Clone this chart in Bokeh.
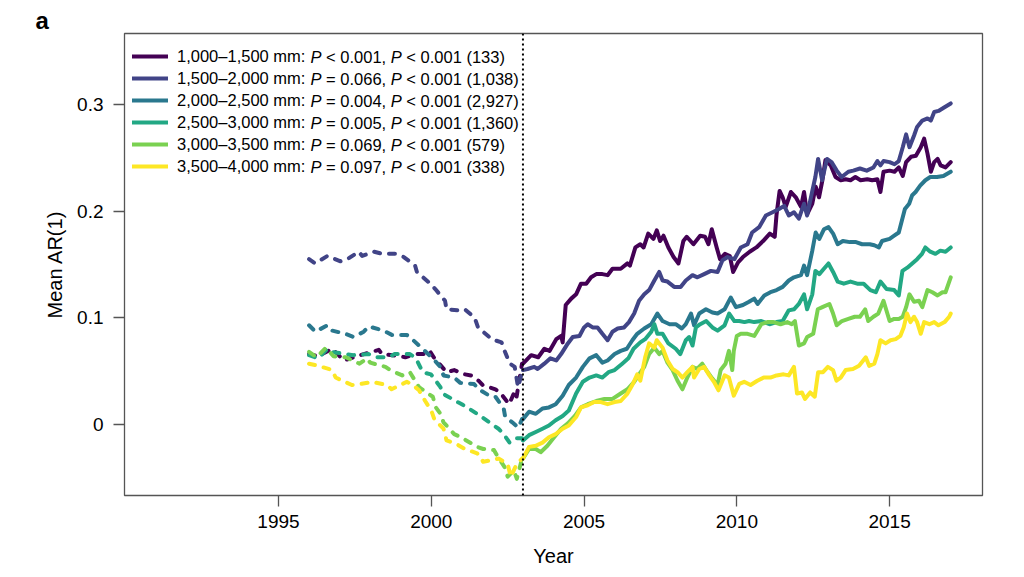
from bokeh.plotting import figure
from bokeh.models import Span, Label, Legend, LegendItem, FixedTicker, Range1d, Title
from bokeh.embed import file_html
from bokeh.resources import INLINE

# ---------------- data (year, mean AR(1)) ----------------
series_names = ["1,000–1,500 mm:", "1,500–2,000 mm:", "2,000–2,500 mm:",
                "2,500–3,000 mm:", "3,000–3,500 mm:", "3,500–4,000 mm:"]
p_trend = ["< 0.001,", "= 0.066,", "= 0.004,", "= 0.005,", "= 0.069,", "= 0.097,"]
p_second = ["< 0.001 (133)", "< 0.001 (1,038)", "< 0.001 (2,927)",
            "< 0.001 (1,360)", "< 0.001 (579)", "< 0.001 (338)"]
colors = ["#440154", "#414487", "#2A788E", "#22A884", "#7AD151", "#FDE725"]

s1_before = [(1996.0, 0.066), (1996.3, 0.064), (1996.76, 0.071), (1997.14, 0.060), (1997.47, 0.063),
             (1997.79, 0.066), (1998.06, 0.068), (1998.28, 0.070), (1998.39, 0.066), (1998.98, 0.064),
             (1999.15, 0.063), (1999.45, 0.066), (1999.8, 0.066), (1999.95, 0.069), (2000.08, 0.063),
             (2000.5, 0.049), (2000.75, 0.051), (2001.1, 0.047), (2001.3, 0.046), (2001.55, 0.041),
             (2001.68, 0.037), (2002.1, 0.033), (2002.25, 0.030), (2002.55, 0.019), (2002.7, 0.029),
             (2002.78, 0.024), (2002.97, 0.057)]
s1_after = [(2003.0, 0.057), (2003.27, 0.065), (2003.5, 0.063), (2003.7, 0.071), (2003.87, 0.069),
            (2004.09, 0.080), (2004.25, 0.083), (2004.3, 0.077), (2004.4, 0.112), (2004.58, 0.118),
            (2004.74, 0.122), (2004.9, 0.132), (2005.07, 0.132), (2005.23, 0.138), (2005.4, 0.141),
            (2005.6, 0.141), (2005.77, 0.140), (2005.93, 0.146), (2006.2, 0.146), (2006.42, 0.151),
            (2006.5, 0.149), (2006.68, 0.166), (2006.84, 0.169), (2006.95, 0.166), (2007.1, 0.179),
            (2007.27, 0.174), (2007.38, 0.182), (2007.49, 0.172), (2007.6, 0.177), (2007.76, 0.166),
            (2007.93, 0.157), (2008.09, 0.151), (2008.25, 0.172), (2008.36, 0.176), (2008.58, 0.169),
            (2008.8, 0.177), (2008.96, 0.176), (2009.07, 0.169), (2009.18, 0.183), (2009.34, 0.166),
            (2009.45, 0.155), (2009.61, 0.160), (2009.77, 0.158), (2009.88, 0.143), (2010.04, 0.152),
            (2010.2, 0.157), (2010.42, 0.162), (2010.64, 0.166), (2010.86, 0.172), (2011.08, 0.179),
            (2011.24, 0.176), (2011.3, 0.197), (2011.4, 0.219), (2011.5, 0.213), (2011.6, 0.204),
            (2011.77, 0.218), (2011.93, 0.213), (2012.1, 0.204), (2012.2, 0.218), (2012.3, 0.197),
            (2012.47, 0.207), (2012.58, 0.223), (2012.69, 0.213), (2012.8, 0.229), (2012.9, 0.248),
            (2013.07, 0.243), (2013.23, 0.232), (2013.4, 0.229), (2013.56, 0.230), (2013.72, 0.229),
            (2013.88, 0.232), (2014.05, 0.229), (2014.27, 0.230), (2014.43, 0.229), (2014.6, 0.230),
            (2014.7, 0.218), (2014.8, 0.237), (2015.0, 0.238), (2015.16, 0.237), (2015.3, 0.241),
            (2015.43, 0.233), (2015.54, 0.246), (2015.7, 0.251), (2015.86, 0.252), (2016.02, 0.260),
            (2016.13, 0.268), (2016.24, 0.254), (2016.35, 0.237), (2016.46, 0.246), (2016.57, 0.249),
            (2016.67, 0.243), (2016.83, 0.241), (2017.0, 0.246)]

s2_before = [(1996.0, 0.155), (1996.2, 0.151), (1996.6, 0.158), (1997.03, 0.153), (1997.25, 0.155),
             (1997.63, 0.162), (1997.74, 0.158), (1998.12, 0.162), (1998.39, 0.160), (1998.82, 0.160),
             (1999.1, 0.157), (1999.47, 0.149), (1999.53, 0.143), (1999.97, 0.132), (2000.13, 0.127),
             (2000.45, 0.116), (2000.5, 0.108), (2000.88, 0.107), (2001.1, 0.108), (2001.42, 0.100),
             (2001.53, 0.091), (2001.86, 0.083), (2001.97, 0.080), (2002.3, 0.077), (2002.4, 0.069),
             (2002.57, 0.057), (2002.73, 0.054), (2002.84, 0.035), (2002.97, 0.049)]
s2_after = [(2003.0, 0.051), (2003.15, 0.052), (2003.37, 0.054), (2003.48, 0.052), (2003.7, 0.057),
            (2003.9, 0.062), (2004.09, 0.060), (2004.25, 0.066), (2004.47, 0.076), (2004.63, 0.082),
            (2004.85, 0.083), (2005.0, 0.091), (2005.12, 0.094), (2005.28, 0.091), (2005.44, 0.091),
            (2005.6, 0.085), (2005.77, 0.079), (2005.93, 0.087), (2006.1, 0.090), (2006.31, 0.091),
            (2006.47, 0.096), (2006.64, 0.104), (2006.8, 0.116), (2006.97, 0.122), (2007.13, 0.126),
            (2007.3, 0.135), (2007.46, 0.143), (2007.57, 0.135), (2007.73, 0.134), (2007.95, 0.129),
            (2008.16, 0.129), (2008.33, 0.135), (2008.55, 0.140), (2008.71, 0.138), (2008.93, 0.141),
            (2009.15, 0.144), (2009.37, 0.143), (2009.53, 0.154), (2009.7, 0.157), (2009.92, 0.155),
            (2010.13, 0.166), (2010.35, 0.169), (2010.5, 0.180), (2010.73, 0.185), (2010.95, 0.196),
            (2011.17, 0.199), (2011.38, 0.202), (2011.55, 0.205), (2011.7, 0.196), (2011.87, 0.199),
            (2012.03, 0.193), (2012.2, 0.207), (2012.3, 0.196), (2012.47, 0.219), (2012.57, 0.232),
            (2012.66, 0.249), (2012.79, 0.229), (2012.95, 0.249), (2013.1, 0.246), (2013.27, 0.238),
            (2013.43, 0.232), (2013.65, 0.237), (2013.81, 0.238), (2014.03, 0.240), (2014.25, 0.238),
            (2014.47, 0.241), (2014.6, 0.247), (2014.7, 0.243), (2014.8, 0.247), (2015.0, 0.246),
            (2015.16, 0.244), (2015.3, 0.247), (2015.43, 0.260), (2015.54, 0.272), (2015.65, 0.260),
            (2015.8, 0.271), (2015.9, 0.279), (2016.07, 0.285), (2016.24, 0.287), (2016.35, 0.285),
            (2016.46, 0.293), (2016.6, 0.294), (2016.77, 0.297), (2017.0, 0.301)]

s3_before = [(1996.0, 0.093), (1996.21, 0.087), (1996.6, 0.093), (1996.76, 0.088), (1997.19, 0.085),
             (1997.46, 0.082), (1997.79, 0.087), (1997.95, 0.092), (1998.44, 0.088), (1998.71, 0.084),
             (1999.2, 0.084), (1999.41, 0.079), (1999.75, 0.070), (2000.05, 0.062), (2000.3, 0.054),
             (2000.4, 0.046), (2000.75, 0.044), (2000.95, 0.039), (2001.4, 0.038), (2001.55, 0.033),
             (2001.9, 0.027), (2002.1, 0.026), (2002.37, 0.015), (2002.42, 0.007), (2002.65, 0.002),
             (2002.85, -0.003), (2002.97, 0.005)]
s3_after = [(2003.0, 0.005), (2003.2, 0.012), (2003.42, 0.010), (2003.64, 0.015), (2003.85, 0.016),
            (2004.07, 0.019), (2004.3, 0.027), (2004.5, 0.037), (2004.74, 0.044), (2004.96, 0.054),
            (2005.18, 0.062), (2005.4, 0.065), (2005.6, 0.058), (2005.77, 0.060), (2006.0, 0.066),
            (2006.2, 0.069), (2006.4, 0.071), (2006.58, 0.079), (2006.74, 0.085), (2006.97, 0.090),
            (2007.2, 0.094), (2007.4, 0.104), (2007.57, 0.097), (2007.8, 0.094), (2008.0, 0.094),
            (2008.2, 0.090), (2008.33, 0.094), (2008.5, 0.104), (2008.6, 0.093), (2008.77, 0.104),
            (2008.99, 0.108), (2009.2, 0.105), (2009.37, 0.104), (2009.6, 0.108), (2009.8, 0.119),
            (2009.97, 0.110), (2010.2, 0.112), (2010.4, 0.115), (2010.57, 0.118), (2010.68, 0.113),
            (2010.9, 0.121), (2011.1, 0.124), (2011.3, 0.126), (2011.5, 0.129), (2011.7, 0.135),
            (2011.87, 0.138), (2012.1, 0.140), (2012.2, 0.149), (2012.3, 0.140), (2012.47, 0.163),
            (2012.58, 0.180), (2012.7, 0.174), (2012.85, 0.183), (2013.0, 0.185), (2013.15, 0.179),
            (2013.3, 0.169), (2013.47, 0.172), (2013.7, 0.171), (2013.9, 0.171), (2014.1, 0.169),
            (2014.35, 0.169), (2014.5, 0.168), (2014.65, 0.166), (2014.75, 0.172), (2015.0, 0.174),
            (2015.15, 0.177), (2015.3, 0.180), (2015.4, 0.191), (2015.5, 0.202), (2015.64, 0.207),
            (2015.74, 0.215), (2015.85, 0.218), (2016.0, 0.224), (2016.17, 0.229), (2016.33, 0.232),
            (2016.55, 0.232), (2016.76, 0.233), (2017.0, 0.237)]

s4_before = [(1996.0, 0.065), (1996.3, 0.062), (1996.6, 0.071), (1996.75, 0.068), (1997.2, 0.066),
             (1997.45, 0.065), (1997.95, 0.066), (1998.2, 0.063), (1998.6, 0.063), (1998.8, 0.066),
             (1999.3, 0.066), (1999.5, 0.062), (1999.72, 0.049), (1999.99, 0.047), (2000.3, 0.035),
             (2000.37, 0.029), (2000.8, 0.022), (2001.0, 0.019), (2001.5, 0.010), (2001.65, 0.007),
             (2002.2, -0.004), (2002.37, -0.009), (2002.56, -0.017), (2002.76, -0.013), (2002.97, -0.013)]
s4_after = [(2003.0, -0.015), (2003.2, -0.010), (2003.42, -0.007), (2003.64, -0.004), (2003.85, -0.001),
            (2004.07, 0.004), (2004.3, 0.008), (2004.5, 0.013), (2004.74, 0.029), (2004.96, 0.040),
            (2005.18, 0.044), (2005.4, 0.046), (2005.6, 0.044), (2005.8, 0.049), (2006.0, 0.051),
            (2006.25, 0.057), (2006.45, 0.062), (2006.62, 0.071), (2006.84, 0.077), (2007.0, 0.080),
            (2007.2, 0.087), (2007.3, 0.094), (2007.4, 0.085), (2007.57, 0.085), (2007.76, 0.076),
            (2008.0, 0.071), (2008.15, 0.066), (2008.33, 0.079), (2008.44, 0.082), (2008.55, 0.074),
            (2008.66, 0.091), (2008.8, 0.094), (2009.0, 0.097), (2009.2, 0.091), (2009.37, 0.088),
            (2009.6, 0.093), (2009.75, 0.104), (2009.92, 0.097), (2010.08, 0.097), (2010.25, 0.096),
            (2010.4, 0.097), (2010.57, 0.096), (2010.8, 0.097), (2011.07, 0.094), (2011.3, 0.096),
            (2011.5, 0.097), (2011.7, 0.107), (2011.87, 0.108), (2012.03, 0.113), (2012.2, 0.122),
            (2012.3, 0.108), (2012.47, 0.122), (2012.57, 0.144), (2012.7, 0.141), (2012.85, 0.146),
            (2013.0, 0.151), (2013.15, 0.143), (2013.3, 0.134), (2013.5, 0.132), (2013.72, 0.134),
            (2013.94, 0.132), (2014.15, 0.132), (2014.37, 0.126), (2014.55, 0.124), (2014.7, 0.134),
            (2014.9, 0.127), (2015.15, 0.126), (2015.3, 0.121), (2015.42, 0.144), (2015.58, 0.147),
            (2015.74, 0.151), (2015.9, 0.155), (2016.06, 0.160), (2016.17, 0.166), (2016.33, 0.162),
            (2016.5, 0.160), (2016.66, 0.163), (2016.83, 0.162), (2017.0, 0.166)]

s5_before = [(1996.0, 0.068), (1996.25, 0.063), (1996.55, 0.072), (1996.8, 0.064), (1997.2, 0.063),
             (1997.65, 0.057), (1997.9, 0.062), (1998.0, 0.058), (1998.5, 0.054), (1998.65, 0.051),
             (1999.05, 0.046), (1999.3, 0.049), (1999.6, 0.035), (1999.7, 0.033), (2000.05, 0.026),
             (2000.15, 0.016), (2000.3, 0.010), (2000.4, 0.002), (2000.75, -0.009), (2000.97, -0.012),
             (2001.5, -0.021), (2001.7, -0.023), (2002.05, -0.024), (2002.15, -0.029), (2002.4, -0.040),
             (2002.5, -0.049), (2002.7, -0.043), (2002.8, -0.051), (2002.97, -0.032)]
s5_after = [(2003.0, -0.032), (2003.2, -0.023), (2003.42, -0.023), (2003.58, -0.026), (2003.8, -0.020),
            (2004.02, -0.012), (2004.25, -0.004), (2004.47, 0.001), (2004.7, 0.008), (2004.9, 0.016),
            (2005.12, 0.019), (2005.4, 0.022), (2005.67, 0.024), (2005.93, 0.024), (2006.2, 0.029),
            (2006.42, 0.033), (2006.64, 0.040), (2006.8, 0.047), (2006.97, 0.054), (2007.13, 0.066),
            (2007.3, 0.072), (2007.46, 0.066), (2007.57, 0.069), (2007.73, 0.058), (2007.9, 0.051),
            (2008.06, 0.041), (2008.22, 0.033), (2008.38, 0.044), (2008.55, 0.054), (2008.7, 0.052),
            (2008.87, 0.057), (2009.0, 0.051), (2009.2, 0.043), (2009.37, 0.037), (2009.47, 0.051),
            (2009.63, 0.057), (2009.74, 0.069), (2009.85, 0.051), (2009.9, 0.069), (2010.0, 0.083),
            (2010.13, 0.085), (2010.35, 0.085), (2010.57, 0.083), (2010.8, 0.094), (2011.0, 0.096),
            (2011.2, 0.096), (2011.43, 0.094), (2011.65, 0.096), (2011.8, 0.094), (2011.9, 0.097),
            (2012.03, 0.074), (2012.2, 0.076), (2012.3, 0.082), (2012.5, 0.085), (2012.65, 0.108),
            (2012.8, 0.110), (2013.03, 0.113), (2013.15, 0.104), (2013.27, 0.093), (2013.44, 0.097),
            (2013.65, 0.099), (2013.86, 0.101), (2014.03, 0.101), (2014.2, 0.108), (2014.3, 0.097),
            (2014.47, 0.101), (2014.63, 0.104), (2014.8, 0.116), (2015.0, 0.097), (2015.15, 0.099),
            (2015.3, 0.099), (2015.43, 0.101), (2015.54, 0.110), (2015.65, 0.122), (2015.8, 0.115),
            (2015.96, 0.116), (2016.07, 0.110), (2016.24, 0.126), (2016.4, 0.124), (2016.57, 0.121),
            (2016.73, 0.124), (2016.83, 0.124), (2017.0, 0.138)]

s6_before = [(1996.0, 0.057), (1996.3, 0.055), (1996.76, 0.051), (1996.87, 0.044), (1997.1, 0.041),
             (1997.4, 0.037), (1997.7, 0.038), (1998.06, 0.040), (1998.55, 0.037), (1998.7, 0.033),
             (1999.2, 0.040), (1999.4, 0.037), (1999.6, 0.032), (1999.8, 0.022), (2000.0, 0.013),
             (2000.1, 0.005), (2000.4, -0.004), (2000.5, -0.015), (2000.8, -0.018), (2001.1, -0.023),
             (2001.5, -0.027), (2001.7, -0.035), (2002.2, -0.032), (2002.5, -0.037), (2002.6, -0.049),
             (2002.8, -0.037), (2002.97, -0.032)]
s6_after = [(2003.0, -0.032), (2003.2, -0.021), (2003.42, -0.020), (2003.64, -0.017), (2003.85, -0.012),
            (2004.07, -0.009), (2004.3, -0.004), (2004.5, -0.001), (2004.74, 0.007), (2004.9, 0.016),
            (2005.12, 0.018), (2005.33, 0.021), (2005.55, 0.021), (2005.77, 0.019), (2006.0, 0.021),
            (2006.2, 0.022), (2006.42, 0.029), (2006.58, 0.037), (2006.74, 0.047), (2006.84, 0.041),
            (2007.0, 0.063), (2007.13, 0.076), (2007.3, 0.072), (2007.38, 0.079), (2007.57, 0.072),
            (2007.73, 0.060), (2007.9, 0.052), (2008.06, 0.049), (2008.22, 0.044), (2008.38, 0.049),
            (2008.55, 0.054), (2008.6, 0.044), (2008.77, 0.052), (2008.93, 0.054), (2009.1, 0.046),
            (2009.25, 0.040), (2009.4, 0.032), (2009.6, 0.046), (2009.74, 0.044), (2009.9, 0.027),
            (2010.08, 0.038), (2010.24, 0.040), (2010.45, 0.037), (2010.67, 0.041), (2010.88, 0.044),
            (2011.1, 0.044), (2011.3, 0.046), (2011.53, 0.047), (2011.7, 0.046), (2011.87, 0.054),
            (2011.97, 0.029), (2012.13, 0.030), (2012.23, 0.024), (2012.4, 0.030), (2012.55, 0.026),
            (2012.66, 0.049), (2012.82, 0.049), (2012.98, 0.054), (2013.15, 0.051), (2013.26, 0.041),
            (2013.4, 0.044), (2013.56, 0.051), (2013.8, 0.052), (2014.0, 0.055), (2014.22, 0.063),
            (2014.33, 0.055), (2014.5, 0.057), (2014.6, 0.066), (2014.7, 0.079), (2014.87, 0.076),
            (2015.03, 0.079), (2015.2, 0.080), (2015.35, 0.083), (2015.46, 0.091), (2015.57, 0.104),
            (2015.68, 0.096), (2015.8, 0.101), (2015.9, 0.096), (2016.02, 0.085), (2016.13, 0.096),
            (2016.3, 0.094), (2016.46, 0.096), (2016.6, 0.093), (2016.8, 0.096), (2016.95, 0.101),
            (2017.0, 0.104)]

before_2003 = [s1_before, s2_before, s3_before, s4_before, s5_before, s6_before]
after_2003 = [s1_after, s2_after, s3_after, s4_after, s5_after, s6_after]
x_ticks = [1995, 2000, 2005, 2010, 2015]
y_ticks = [0, 0.1, 0.2, 0.3]
y_tick_labels = ["0", "0.1", "0.2", "0.3"]
break_year = 2003

# ---------------- figure ----------------
FONT = "Liberation Sans"
FW, FH = 858, 462
LEG_FS = 16.5
LW = 4

p = figure(frame_width=FW, frame_height=FH,
           min_border_left=124, min_border_right=30, min_border_top=33, min_border_bottom=78,
           x_range=Range1d(1989.96, 2018.04), y_range=Range1d(-0.0666, 0.3666),
           output_backend="svg", toolbar_location=None,
           x_axis_label="Year", y_axis_label="Mean AR(1)")
p.title = Title(text="a", text_font=FONT, text_font_size="24px", text_font_style="bold",
                text_color="black", align="left", offset=-89, standoff=0)
p.background_fill_color = "white"
p.border_fill_color = "white"
p.grid.visible = False
p.outline_line_color = "#555555"
p.outline_line_width = 1.3

for ax in (p.xaxis[0], p.yaxis[0]):
    ax.axis_line_color = None
    ax.major_tick_out = 11
    ax.major_tick_in = 0
    ax.major_tick_line_color = "#555555"
    ax.major_tick_line_width = 1.3
    ax.minor_tick_line_color = None
    ax.major_label_text_font = FONT
    ax.major_label_text_font_size = "19px"
    ax.major_label_text_color = "black"
    ax.axis_label_text_font = FONT
    ax.axis_label_text_font_size = "20px"
    ax.axis_label_text_font_style = "normal"
    ax.axis_label_text_color = "black"

p.xaxis.ticker = FixedTicker(ticks=x_ticks)
p.yaxis.ticker = FixedTicker(ticks=y_ticks)
p.yaxis.major_label_overrides = {t: s for t, s in zip(y_ticks, y_tick_labels)}
p.xaxis.major_label_standoff = 8
p.yaxis.major_label_standoff = 10
p.xaxis.axis_label_standoff = 14
p.yaxis.axis_label_standoff = 8

items = []
for i in range(6):
    bx = [a for a, b in before_2003[i]]
    by = [b for a, b in before_2003[i]]
    ax_ = [a for a, b in after_2003[i]]
    ay = [b for a, b in after_2003[i]]
    p.line(bx, by, line_color=colors[i], line_width=LW, line_dash="6 9",
           line_cap="round", line_join="round")
    r = p.line(ax_, ay, line_color=colors[i], line_width=LW,
               line_cap="round", line_join="round")
    items.append(LegendItem(label=series_names[i], renderers=[r]))

p.add_layout(Span(location=break_year, dimension="height", line_color="black",
                  line_width=2, line_dash="2 3"))

# ---------------- legend ----------------
ROW_H = 22
TOP_OFF = 12
legend = Legend(items=items, location=(8, FH - TOP_OFF - 6 * ROW_H),
                padding=0, margin=0, spacing=0,
                glyph_width=36, glyph_height=ROW_H, label_height=ROW_H,
                label_standoff=9, label_text_font=FONT, label_text_font_size=f"{LEG_FS}px",
                label_text_color="black",
                border_line_color=None, background_fill_alpha=0)
p.add_layout(legend)

# Arial / Liberation Sans advance widths (per 1000 em)
W = {" ": 278, ",": 278, ".": 278, ":": 278, "–": 556, "m": 833, "P": 667,
     "<": 584, "=": 584, "(": 333, ")": 333}
for d in "0123456789":
    W[d] = 556


def tw(s, size=LEG_FS):
    return sum(W.get(c, 556) for c in s) * size / 1000.0


x0 = 8 + 36 + 9
for i in range(6):
    yc = FH - TOP_OFF - ROW_H * i - ROW_H / 2
    x = x0 + tw(series_names[i]) + tw(" ")
    pieces = [("P", "italic"), (p_trend[i], "normal"), ("P", "italic"), (p_second[i], "normal")]
    for txt, style in pieces:
        p.add_layout(Label(x=x, y=yc, x_units="screen", y_units="screen", text=txt,
                           text_font=FONT, text_font_size=f"{LEG_FS}px", text_font_style=style,
                           text_color="black", text_baseline="middle", text_align="left"))
        x += tw(txt) + tw(" ")

open("out.html", "w").write(file_html(p, INLINE))
